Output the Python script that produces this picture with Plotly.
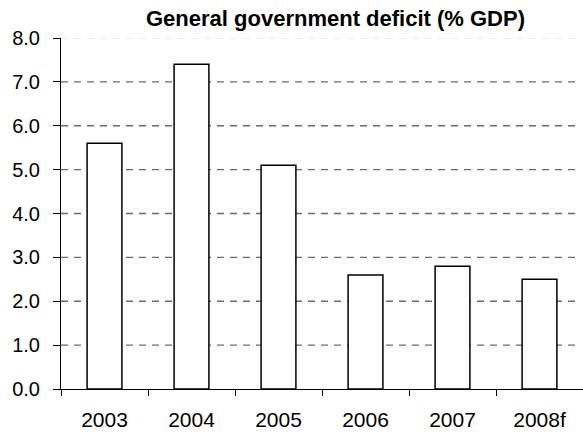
import plotly.graph_objects as go

# General government deficit, % of GDP (2008 is a forecast)
years = ["2003", "2004", "2005", "2006", "2007", "2008f"]
deficit = [5.6, 7.4, 5.1, 2.6, 2.8, 2.5]
y_ticks = [0, 1, 2, 3, 4, 5, 6, 7, 8]
y_labels = [f"{v:.1f}" for v in y_ticks]

FONT = "Liberation Sans, Arial, sans-serif"

fig = go.Figure(
    go.Bar(
        x=years,
        y=deficit,
        marker=dict(color="white", line=dict(color="black", width=1.5)),
        hoverinfo="x+y",
    )
)

# dashed horizontal gridlines (top line drawn fainter)
shapes = []
for v in y_ticks[1:]:
    shapes.append(
        dict(
            type="line", xref="paper", yref="y", x0=0, x1=0.985, y0=v, y1=v,
            line=dict(color="#e6e6e6" if v == y_ticks[-1] else "#6a6a6a",
                      width=1.3, dash="7px,6px"),
            layer="below",
        )
    )

fig.update_layout(
    width=583, height=432,
    margin=dict(l=61, r=0, t=38, b=43),
    paper_bgcolor="white", plot_bgcolor="white",
    bargap=0.6,
    showlegend=False,
    shapes=shapes,
    font=dict(family=FONT, color="black"),
    annotations=[
        dict(
            text="<b>General government deficit (% GDP)</b>",
            xref="paper", yref="paper", x=0.525, y=1, yshift=20,
            xanchor="center", yanchor="middle", showarrow=False,
            font=dict(size=22, family=FONT, color="black"),
        )
    ],
    xaxis=dict(
        type="category",
        tickson="boundaries",
        ticks="outside", ticklen=6, tickcolor="black", tickwidth=1,
        showline=True, linecolor="black", linewidth=1.3,
        showgrid=False, zeroline=False,
        tickfont=dict(size=21, family=FONT, color="black"),
        ticklabelstandoff=12,
        range=[-0.5, 5.5],
    ),
    yaxis=dict(
        range=[0, 8],
        tickvals=y_ticks, ticktext=y_labels,
        ticks="outside", ticklen=7, tickcolor="black", tickwidth=1,
        showline=True, linecolor="black", linewidth=1,
        showgrid=False, zeroline=False,
        tickfont=dict(size=20, family=FONT, color="black"),
        ticklabelstandoff=9,
    ),
)

fig.write_html("out.html")
